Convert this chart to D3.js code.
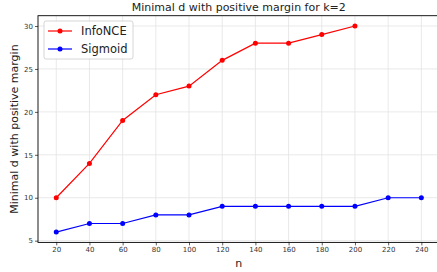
<!DOCTYPE html>
<html lang="en">
<head>
  <meta charset="UTF-8">
  <title>Minimal d with positive margin</title>
  <script src="https://d3js.org/d3.v7.min.js"></script>
  <style>
    body { margin: 0; background: #fff; }
    svg { font-family: "DejaVu Sans", sans-serif; }
  </style>
</head>
<body>
  <svg id="chart" width="437" height="272"></svg>
  <script>
    // data
    const nInfo = [20, 40, 60, 80, 100, 120, 140, 160, 180, 200];
    const infoNCE = [10, 14, 19, 22, 23, 26, 28, 28, 29, 30];
    const nSig = [20, 40, 60, 80, 100, 120, 140, 160, 180, 200, 220, 240];
    const sigmoid = [6, 7, 7, 8, 8, 9, 9, 9, 9, 9, 10, 10];
    const xTicks = [20, 40, 60, 80, 100, 120, 140, 160, 180, 200, 220, 240];
    const yTicks = [5, 10, 15, 20, 25, 30];

    const mLeft = 38, mRight = 439.6, mTop = 15.7, mBottom = 242.4;
    const svg = d3.select("#chart");

    const x = d3.scaleLinear().domain([9, 251]).range([mLeft, mRight]);
    const y = d3.scaleLinear().domain([4.8, 31.2]).range([mBottom, mTop]);

    // grid
    svg.append("g").selectAll("line").data(xTicks).join("line")
      .attr("x1", d => x(d)).attr("x2", d => x(d))
      .attr("y1", mTop).attr("y2", mBottom)
      .attr("stroke", "#e3e3e3").attr("stroke-width", 0.8);
    svg.append("g").selectAll("line").data(yTicks).join("line")
      .attr("y1", d => y(d)).attr("y2", d => y(d))
      .attr("x1", mLeft).attr("x2", mRight)
      .attr("stroke", "#e3e3e3").attr("stroke-width", 0.8);

    // axes
    const xAxis = svg.append("g").attr("transform", `translate(0,${mBottom})`)
      .call(d3.axisBottom(x).tickValues(xTicks).tickSize(3).tickPadding(2));
    const yAxis = svg.append("g").attr("transform", `translate(${mLeft},0)`)
      .call(d3.axisLeft(y).tickValues(yTicks).tickSize(3).tickPadding(2));
    [xAxis, yAxis].forEach(g => {
      g.select(".domain").remove();
      g.selectAll("text").attr("font-size", 7).attr("fill", "#333")
        .attr("font-family", "DejaVu Sans, sans-serif");
      g.selectAll(".tick line").attr("stroke", "#333").attr("stroke-width", 0.8);
    });

    // frame
    svg.append("rect").attr("x", mLeft).attr("y", mTop)
      .attr("width", mRight - mLeft).attr("height", mBottom - mTop)
      .attr("fill", "none").attr("stroke", "#000").attr("stroke-width", 0.9);

    // series
    const series = [
      { name: "InfoNCE", xs: nInfo, ys: infoNCE, color: "#ff0000" },
      { name: "Sigmoid", xs: nSig, ys: sigmoid, color: "#0000ff" }
    ];
    const line = d3.line().x(d => x(d[0])).y(d => y(d[1]));
    series.forEach(s => {
      const pts = s.xs.map((v, i) => [v, s.ys[i]]);
      svg.append("path").datum(pts).attr("d", line)
        .attr("fill", "none").attr("stroke", s.color).attr("stroke-width", 1.2);
      svg.append("g").selectAll("circle").data(pts).join("circle")
        .attr("cx", d => x(d[0])).attr("cy", d => y(d[1]))
        .attr("r", 2.5).attr("fill", s.color);
    });

    // legend
    const lg = svg.append("g").attr("transform", "translate(44,21)");
    lg.append("rect").attr("width", 89).attr("height", 38).attr("rx", 2)
      .attr("fill", "#fff").attr("fill-opacity", 0.85)
      .attr("stroke", "#ccc").attr("stroke-width", 0.8);
    series.forEach((s, i) => {
      const yy = 10 + i * 18;
      lg.append("line").attr("x1", 4).attr("x2", 28).attr("y1", yy).attr("y2", yy)
        .attr("stroke", s.color).attr("stroke-width", 1.2);
      lg.append("circle").attr("cx", 16).attr("cy", yy).attr("r", 2.5).attr("fill", s.color);
      lg.append("text").attr("x", 37).attr("y", yy).attr("dy", "0.35em")
        .attr("font-size", 11.5).attr("fill", "#222").text(s.name);
    });

    // labels
    svg.append("text").attr("x", (mLeft + mRight) / 2).attr("y", 11)
      .attr("text-anchor", "middle").attr("font-size", 11).attr("fill", "#222")
      .text("Minimal d with positive margin for k=2");
    svg.append("text").attr("x", (mLeft + mRight) / 2).attr("y", 267)
      .attr("text-anchor", "middle").attr("font-size", 11).attr("fill", "#222")
      .text("n");
    svg.append("text")
      .attr("transform", `translate(18,${(mTop + mBottom) / 2}) rotate(-90)`)
      .attr("text-anchor", "middle").attr("font-size", 11).attr("fill", "#222")
      .text("Minimal d with positive margin");
  </script>
</body>
</html>
